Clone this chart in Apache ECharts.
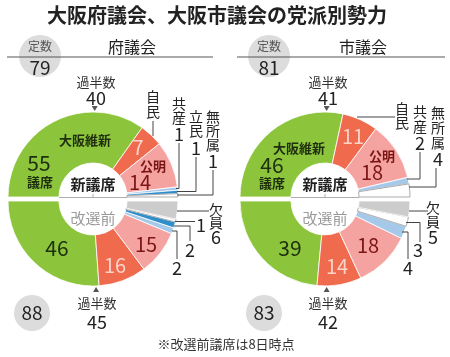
<!DOCTYPE html>
<html><head><meta charset="utf-8">
<script src="https://cdn.jsdelivr.net/npm/echarts@6/dist/echarts.min.js"></script>
<style>html,body{margin:0;padding:0;background:#fff}#c{width:450px;height:357px}</style>
</head><body><div id="c"></div>
<script>
// ---- data ----
const parties = ['大阪維新', '自民', '公明', '共産', '立民', '無所属', '欠員'];
const partyColors = ['#8cc43c', '#f06a4e', '#f5a3a0', '#a6c9ea', '#2f8fcb', '#ffffff', '#cccccc'];
const fuNew = [55, 7, 14, 1, 1, 1, 0];
const fuOld = [46, 16, 15, 2, 2, 1, 6];
const shiNew = [46, 11, 18, 2, 0, 4, 0];
const shiOld = [39, 14, 18, 4, 0, 3, 5];
const fuTeisu = [79, 88];
const shiTeisu = [81, 83];
const fuMajority = [40, 45];
const shiMajority = [41, 42];

const FONT = '"Noto Sans CJK JP","Noto Sans",sans-serif';
const chart = echarts.init(document.getElementById('c'), null, {renderer: 'canvas'});

const R0 = 34, R1 = 85;
const LX = 93, RX = 325, TOPY = 197, BOTY = 201;

function pieData(vals) {
  const d = []; let sum = 0;
  vals.forEach((v, i) => {
    if (v > 0) {
      sum += v;
      const white = partyColors[i] === '#ffffff';
      d.push({name: parties[i], value: v, itemStyle: {color: partyColors[i], borderColor: white ? '#8a8a8a' : '#ffffff', borderWidth: white ? 0.7 : 0.8}});
    }
  });
  d.push({name: '', value: sum, itemStyle: {color: 'rgba(0,0,0,0)', borderWidth: 0}});
  return d;
}
function pie(cx, cy, vals, clockwise) {
  return {type: 'pie', center: [cx, cy], radius: [R0, R1], startAngle: 180, clockwise: clockwise,
    silent: true, label: {show: false}, labelLine: {show: false}, emphasis: {disabled: true},
    animation: false, data: pieData(vals)};
}

const g = [];
function T(x, y, text, font, color, extra) {
  g.push({type: 'text', z: 10, style: Object.assign({x: x, y: y, text: String(text), font: font + ' ' + FONT,
    fill: color, textAlign: 'center', textVerticalAlign: 'middle'}, extra || {})});
}
function V(x, y, text, lh) { // vertical label
  T(x, y, text.split('').join('\n'), '14px', '#222', {lineHeight: lh});
}
function N(x, y, v) { T(x, y, v, '18px', '#222'); }
function L(points) {
  g.push({type: 'polyline', z: 9, shape: {points: points}, style: {stroke: '#444', lineWidth: 1, fill: null}});
}
function C(x, y, r) {
  g.push({type: 'circle', z: 1, shape: {cx: x, cy: y, r: r}, style: {fill: '#dcdcdc'}});
}
function tri(cx, cy, maj, total, top) {
  const th = maj / total * Math.PI, r = R1 + 1;
  const x = cx - r * Math.cos(th);
  const y = top ? cy - r * Math.sin(th) : cy + r * Math.sin(th);
  const s = 3, h = top ? -5 : 5;
  g.push({type: 'polygon', z: 10, shape: {points: [[x - s, y + h], [x + s, y + h], [x, y]]}, style: {fill: '#555'}});
}

// title & headers
T(217, 15, '大阪府議会、大阪市議会の党派別勢力', 'bold 20px', '#222');
C(40, 56, 21); C(269, 56, 21);
C(32, 313, 18); C(264, 313, 18);
g.push({type: 'line', z: 5, shape: {x1: 7, y1: 57, x2: 213, y2: 57}, style: {stroke: '#555', lineWidth: 1}});
g.push({type: 'line', z: 5, shape: {x1: 237, y1: 57, x2: 445, y2: 57}, style: {stroke: '#555', lineWidth: 1}});
T(132, 47, '府議会', '16px', '#222');
T(363, 47, '市議会', '16px', '#222');
T(40, 46, '定数', '12px', '#555');
T(40, 68, fuTeisu[0], '19px', '#222');
T(269, 46, '定数', '12px', '#555');
T(269, 68, shiTeisu[0], '19px', '#222');
T(32, 313, fuTeisu[1], '19px', '#222');
T(264, 313, shiTeisu[1], '19px', '#222');

// majority
T(96, 82, '過半数', '13px', '#333'); T(96, 98, fuMajority[0], '18px', '#222');
T(328, 82, '過半数', '13px', '#333'); T(328, 98, shiMajority[0], '18px', '#222');
T(97, 303, '過半数', '13px', '#333'); T(97, 322, fuMajority[1], '18px', '#222');
T(328, 303, '過半数', '13px', '#333'); T(328, 322, shiMajority[1], '18px', '#222');
tri(LX, TOPY, fuMajority[0], fuTeisu[0], true);
tri(RX, TOPY, shiMajority[0], shiTeisu[0], true);
tri(LX, BOTY, fuMajority[1], fuTeisu[1], false);
tri(RX, BOTY, shiMajority[1], shiTeisu[1], false);

const dG = '#1e2e0e', lP = '#fcd3c9', dR = '#7a1515';
// ---- left top ----
T(85, 140, parties[0], 'bold 13px', dG);
T(39, 163, fuNew[0], '21px', dG);
T(40, 182, '議席', 'bold 13px', dG);
T(138, 147, fuNew[1], '20px', lP);
T(153, 166, parties[2], 'bold 13px', dR);
T(140, 182, fuNew[2], '20px', dR);
T(LX, 184, '新議席', 'bold 15px', '#222');
V(153, 104, parties[1], 15); L([[153, 121], [153, 136]]);
V(179, 111, parties[3], 14); N(179, 134, fuNew[3]); L([[179, 143], [179, 188.5], [176, 188.5]]);
V(196, 123.5, parties[4], 14); N(196, 148, fuNew[4]); L([[196, 157], [196, 191.5], [177, 191.5]]);
V(213, 131, parties[5], 14); N(213, 161, fuNew[5]); L([[213, 170], [213, 195], [177, 195]]);
// ---- right top ----
T(299, 148, parties[0], 'bold 13px', dG);
T(272, 165, shiNew[0], '21px', dG);
T(272, 183, '議席', 'bold 13px', dG);
T(353, 136, shiNew[1], '20px', lP);
T(382, 156, parties[2], 'bold 13px', dR);
T(372, 172, shiNew[2], '20px', dR);
T(RX, 184, '新議席', 'bold 15px', '#222');
V(402, 116, parties[1], 14); L([[357, 117], [395, 117]]);
V(420, 119.5, parties[3], 15); N(420, 143, shiNew[3]); L([[420, 152], [420, 179], [407, 179]]);
V(438, 128, parties[5], 15); N(438, 159, shiNew[5]); L([[436, 168], [436, 187], [409, 187]]);
// ---- left bottom ----
T(LX, 218, '改選前', '15px', '#9a9a9a');
T(57, 248, fuOld[0], '21px', dG);
T(115, 265, fuOld[1], '20px', lP);
T(146, 244, fuOld[2], '20px', dR);
V(216, 216, parties[6], 13.5); N(216, 237, fuOld[6]); L([[177, 211], [209, 211]]);
N(201, 225, fuOld[5]); L([[175, 221.5], [195, 221.5]]);
N(190, 250, fuOld[4]); L([[174, 226], [190, 226], [190, 241]]);
N(177, 268, fuOld[3]); L([[172, 231], [177, 231], [177, 259]]);
// ---- right bottom ----
T(RX, 218, '改選前', '15px', '#9a9a9a');
T(290, 248, shiOld[0], '21px', dG);
T(337, 266, shiOld[1], '20px', lP);
T(368, 245, shiOld[2], '20px', dR);
V(433, 215, parties[6], 14); N(433, 237, shiOld[6]); L([[409, 211], [428, 211]]);
N(418, 250, shiOld[5]); L([[406, 222.5], [420, 222.5], [420, 242]]);
N(408, 268, shiOld[3]); L([[402, 232], [408, 232], [408, 259]]);

// hole base lines / ticks
[LX, RX].forEach(cx => {
  g.push({type: 'line', z: 6, shape: {x1: cx - R0, y1: TOPY + 0.5, x2: cx + R0, y2: TOPY + 0.5}, style: {stroke: '#999', lineWidth: 0.8}});
  g.push({type: 'line', z: 6, shape: {x1: cx, y1: TOPY - 3, x2: cx, y2: TOPY}, style: {stroke: '#999', lineWidth: 0.8}});
});

// footer
T(226, 344, '※改選前議席は8日時点', '13px', '#333');

chart.setOption({
  animation: false,
  series: [pie(LX, TOPY, fuNew, true), pie(LX, BOTY, fuOld, false), pie(RX, TOPY, shiNew, true), pie(RX, BOTY, shiOld, false)],
  graphic: {elements: g}
});
</script></body></html>
